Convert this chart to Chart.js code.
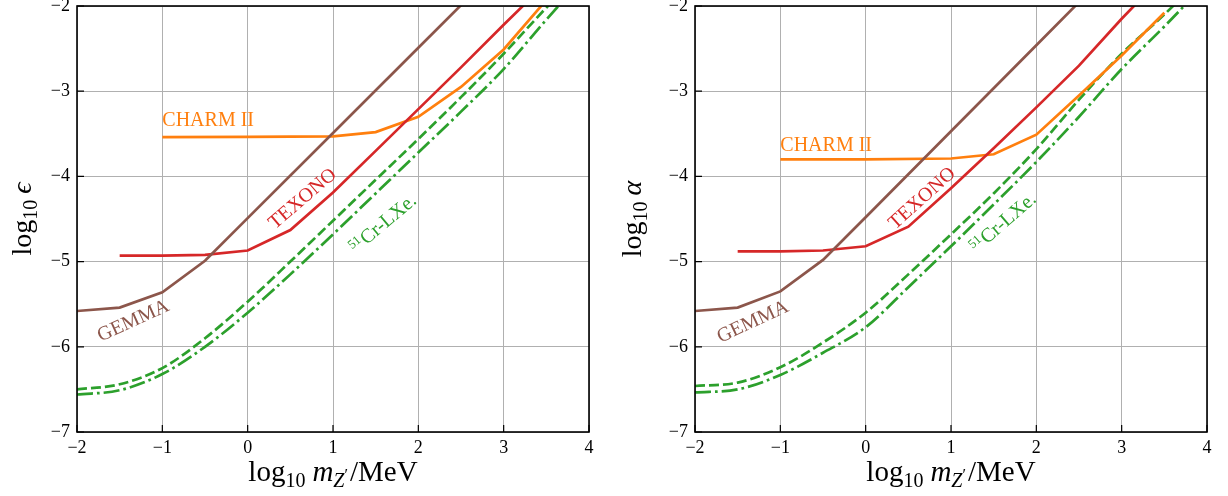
<!DOCTYPE html>
<html>
<head>
<meta charset="utf-8">
<script src="https://cdn.jsdelivr.net/npm/chart.js@4.4.1/dist/chart.umd.min.js"></script>
<style>
  body { margin: 0; background: #fff; }
  #wrap { position: relative; width: 1228px; height: 496px; }
  canvas { position: absolute; top: 0; }
</style>
</head>
<body>
<div id="wrap">
  <canvas id="left" width="600" height="496" style="left:0"></canvas>
  <canvas id="right" width="614" height="496" style="left:614px"></canvas>
</div>
<script>
// log10 of mass (MeV) and log10 of the coupling

const GEMMA_X = [-2, -1.5, -1, -0.5, 0, 1, 2, 3];
const GEMMA_EPS = [-5.58, -5.54, -5.36, -4.99, -4.49, -3.49, -2.49, -1.49];
const GEMMA_ALPHA = [-5.58, -5.54, -5.35, -4.98, -4.48, -3.47, -2.46, -1.45];

const TEXONO_X = [-1.5, -1, -0.5, 0, 0.5, 1, 1.5, 2, 2.5, 3, 3.5];
const TEXONO_EPS = [-4.93, -4.93, -4.92, -4.87, -4.63, -4.19, -3.70, -3.21, -2.72, -2.22, -1.73];
const TEXONO_ALPHA = [-4.88, -4.88, -4.87, -4.82, -4.59, -4.14, -3.67, -3.19, -2.70, -2.15, -1.63];

const CHARM_X = [-1, 0, 1, 1.5, 2, 2.5, 3, 3.5];
const CHARM_EPS = [-3.54, -3.535, -3.53, -3.48, -3.30, -2.95, -2.51, -1.93];
const CHARM_ALPHA = [-3.80, -3.80, -3.79, -3.74, -3.51, -3.05, -2.58, -2.08];

const LXE_X = [-2, -1.5, -1, -0.5, 0, 0.5, 1, 1.5, 2, 2.5, 3, 3.5, 4];
const LXE_DASH_EPS = [-6.50, -6.44, -6.25, -5.90, -5.47, -5.00, -4.52, -4.04, -3.56, -3.07, -2.56, -2.02, -1.50];
const LXE_DASHDOT_EPS = [-6.56, -6.51, -6.32, -6.00, -5.60, -5.15, -4.68, -4.20, -3.72, -3.24, -2.74, -2.16, -1.60];
const LXE_DASH_ALPHA = [-6.46, -6.42, -6.24, -5.95, -5.60, -5.15, -4.68, -4.20, -3.68, -3.10, -2.56, -2.10, -1.60];
const LXE_DASHDOT_ALPHA = [-6.535, -6.50, -6.33, -6.07, -5.77, -5.30, -4.82, -4.33, -3.83, -3.30, -2.74, -2.24, -1.72];

const X_TICKS = [-2, -1, 0, 1, 2, 3, 4];
const Y_TICKS = [-7, -6, -5, -4, -3, -2];

const SERIF = '"Liberation Serif", "DejaVu Serif", serif';
const COLORS = { charm: "#ff7f0e", texono: "#d62728", lxe: "#2ca02c", gemma: "#8c564b" };

function points(xs, ys) {
  return xs.map((x, i) => ({ x, y: ys[i] }));
}

function minus(v) {
  return String(v).replace("-", "\u2212");
}

// Текст з кількох шматків (індекси, курсив), можна повернути на кут
function drawRich(ctx, segs, x, y, { align = "center", angle = 0, color = "#000", middle = false } = {}) {
  ctx.save();
  ctx.translate(x, y);
  ctx.rotate(-angle * Math.PI / 180);
  ctx.fillStyle = color;
  ctx.textBaseline = "alphabetic";
  ctx.textAlign = "left";
  const fonts = segs.map(s => `${s.italic ? "italic " : ""}${s.size}px ${SERIF}`);
  let total = 0;
  const widths = segs.map((s, i) => {
    ctx.font = fonts[i];
    const w = ctx.measureText(s.text).width + (s.gap || 0);
    total += w;
    return w;
  });
  let cx = align === "center" ? -total / 2 : 0;
  const shift = middle ? segs[0].size * 0.35 : 0;
  segs.forEach((s, i) => {
    ctx.font = fonts[i];
    ctx.fillText(s.text, cx, (s.dy || 0) + shift);
    cx += widths[i];
  });
  ctx.restore();
}

const framePlugin = {
  id: "frame",
  afterDatasetsDraw(chart) {
    const { ctx, chartArea: a, scales: { x, y } } = chart;
    ctx.save();
    ctx.strokeStyle = "#000";
    ctx.lineWidth = 1.2;
    ctx.beginPath();
    X_TICKS.forEach(v => {
      const px = x.getPixelForValue(v);
      ctx.moveTo(px, a.bottom);
      ctx.lineTo(px, a.bottom - 7);
    });
    Y_TICKS.forEach(v => {
      const py = y.getPixelForValue(v);
      ctx.moveTo(a.left, py);
      ctx.lineTo(a.left + 7, py);
    });
    ctx.stroke();
    ctx.lineWidth = 1.6;
    ctx.strokeRect(a.left, a.top, a.right - a.left, a.bottom - a.top);
    ctx.restore();
  }
};

const labelPlugin = {
  id: "curveLabels",
  afterDatasetsDraw(chart, args, opts) {
    const { ctx, scales: { x, y } } = chart;
    (opts.items || []).forEach(it => {
      drawRich(ctx, it.segs, x.getPixelForValue(it.x), y.getPixelForValue(it.y), {
        align: it.align || "center", angle: it.angle || 0, color: it.color, middle: it.align !== "left"
      });
    });
  }
};

const titlePlugin = {
  id: "axisTitles",
  afterDraw(chart, args, opts) {
    const { ctx, chartArea: a } = chart;
    drawRich(ctx, [
      { text: "log", size: 29 },
      { text: "10", size: 20, dy: 6, gap: 7 },
      { text: "m", size: 29, italic: true },
      { text: "Z", size: 20, italic: true, dy: 6 },
      { text: "\u2032", size: 16, dy: -1, gap: 2 },
      { text: "/MeV", size: 29 }
    ], (a.left + a.right) / 2, 481);
    drawRich(ctx, [
      { text: "log", size: 28 },
      { text: "10", size: 20, dy: 6, gap: 6 },
      { text: opts.symbol, size: 28, italic: true }
    ], opts.yTitleX, (a.top + a.bottom) / 2, { angle: 90 });
  }
};

function lxeLabel(x, y, angle) {
  return {
    segs: [{ text: "51", size: 13, dy: -6, gap: 1 }, { text: "Cr-LXe.", size: 20 }],
    x, y, angle, color: COLORS.lxe
  };
}

function makeChart(canvas, { symbol, yTitleX, yWidth, padRight, series, labels }) {
  const [gemma, texono, charm, dash, dashdot] = series;
  const line = (data, color, extra = {}) => ({
    data, borderColor: color, backgroundColor: color, borderWidth: 2.7,
    pointRadius: 0, fill: false, clip: 0, ...extra
  });
  const tickFont = { family: SERIF, size: 18 };
  return new Chart(canvas, {
    type: "line",
    data: {
      datasets: [
        line(points(GEMMA_X, gemma), COLORS.gemma),
        line(points(TEXONO_X, texono), COLORS.texono),
        line(points(CHARM_X, charm), COLORS.charm),
        line(points(LXE_X, dash), COLORS.lxe, { borderDash: [10, 4], cubicInterpolationMode: "monotone" }),
        line(points(LXE_X, dashdot), COLORS.lxe, { borderDash: [16, 4, 2.7, 4], cubicInterpolationMode: "monotone" })
      ]
    },
    options: {
      responsive: false,
      animation: false,
      events: [],
      layout: { padding: { top: 6, right: padRight, bottom: 0, left: 0 } },
      plugins: {
        legend: { display: false },
        tooltip: { enabled: false },
        curveLabels: { items: labels },
        axisTitles: { symbol, yTitleX }
      },
      scales: {
        x: {
          type: "linear", min: -2, max: 4,
          ticks: { stepSize: 1, callback: minus, font: tickFont, color: "#000", padding: 5, maxRotation: 0, autoSkip: false },
          grid: { color: "#b0b0b0", lineWidth: 1, drawTicks: false },
          border: { display: false },
          afterFit(s) { s.height = 64; s.paddingLeft = 0; s.paddingRight = 0; }
        },
        y: {
          type: "linear", min: -7, max: -2,
          ticks: { stepSize: 1, callback: minus, font: tickFont, color: "#000", padding: 7 },
          grid: { color: "#b0b0b0", lineWidth: 1, drawTicks: false },
          border: { display: false },
          afterFit(s) { s.width = yWidth; s.paddingTop = 0; s.paddingBottom = 0; }
        }
      }
    },
    plugins: [framePlugin, labelPlugin, titlePlugin]
  });
}

makeChart(document.getElementById("left"), {
  symbol: "\u03f5", yTitleX: 31, yWidth: 77, padRight: 11,
  series: [GEMMA_EPS, TEXONO_EPS, CHARM_EPS, LXE_DASH_EPS, LXE_DASHDOT_EPS],
  labels: [
    { segs: [{ text: "CHARM II", size: 20 }], x: -1, y: -3.405, align: "left", color: COLORS.charm },
    { segs: [{ text: "TEXONO", size: 20 }], x: 0.634, y: -4.25, angle: 40.5, color: COLORS.texono },
    lxeLabel(1.595, -4.567, 40),
    { segs: [{ text: "GEMMA", size: 20 }], x: -1.347, y: -5.68, angle: 24.5, color: COLORS.gemma }
  ]
});

makeChart(document.getElementById("right"), {
  symbol: "\u03b1", yTitleX: 27, yWidth: 81, padRight: 21,
  series: [GEMMA_ALPHA, TEXONO_ALPHA, CHARM_ALPHA, LXE_DASH_ALPHA, LXE_DASHDOT_ALPHA],
  labels: [
    { segs: [{ text: "CHARM II", size: 20 }], x: -1, y: -3.707, align: "left", color: COLORS.charm },
    { segs: [{ text: "TEXONO", size: 20 }], x: 0.65, y: -4.244, angle: 42, color: COLORS.texono },
    lxeLabel(1.62, -4.555, 41),
    { segs: [{ text: "GEMMA", size: 20 }], x: -1.33, y: -5.69, angle: 25, color: COLORS.gemma }
  ]
});
</script>
</body>
</html>
